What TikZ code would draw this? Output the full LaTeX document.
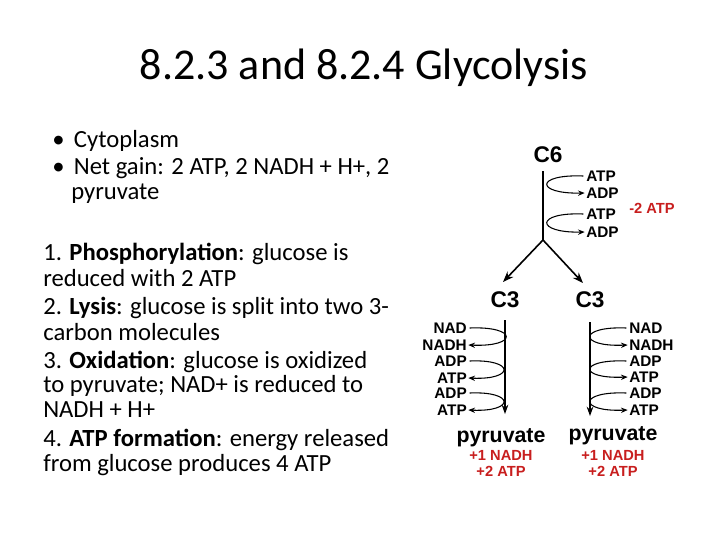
\documentclass[tikz,border=0pt]{standalone}
\usepackage{fontspec}
\setmainfont{Carlito}
\newfontfamily\hv{Liberation Sans}
\usetikzlibrary{arrows.meta}
\begin{document}
\begin{tikzpicture}[x=0.75pt,y=-0.75pt,
  txt/.style={font=\fontsize{18.5}{22}\selectfont,anchor=west,inner sep=0},
  big/.style={font=\hv\bfseries\fontsize{16}{19}\selectfont,inner sep=0},
  lab/.style={font=\hv\bfseries\fontsize{11.5}{13}\selectfont,inner sep=0},
  red/.style={font=\hv\bfseries\fontsize{11}{13}\selectfont,inner sep=0,text={rgb,255:red,200;green,30;blue,30}},
  ln/.style={line width=0.9pt},
  loop/.style={line width=0.8pt,-{Stealth[length=5pt,width=4pt]}},
  arr/.style={line width=1.2pt,-{Stealth[length=8pt,width=6pt]}}]
\useasboundingbox (0,0) rectangle (720,540);
\fill[white] (0,0) rectangle (720,540);
\node[font=\fontsize{33}{38}\selectfont] (title) at (364,68) {8.2.3 and 8.2.4 Glycolysis};
\node[txt] (b1) at (52,141) {•\hspace{7pt}Cytoplasm};
\node[txt] (b2) at (52,168) {•\hspace{7pt}Net gain: 2 ATP, 2 NADH + H+, 2};
\node[txt] (b3) at (71,194) {pyruvate};
\node[txt] (l1) at (43,254) {1. \textbf{Phosphorylation}: glucose is};
\node[txt] (l2) at (43,278) {reduced with 2 ATP};
\node[txt] (l3) at (43,308) {2. \textbf{Lysis}: glucose is split into two 3-};
\node[txt] (l4) at (43,332) {carbon molecules};
\node[txt] (l5) at (43,362) {3. \textbf{Oxidation}: glucose is oxidized};
\node[txt] (l6) at (43,386) {to pyruvate; NAD+ is reduced to};
\node[txt] (l7) at (43,410) {NADH + H+};
\node[txt] (l8) at (43,440) {4. \textbf{ATP formation}: energy released};
\node[txt] (l9) at (43,465) {from glucose produces 4 ATP};
% diagram
\node[big,font=\hv\bfseries\fontsize{17}{19}\selectfont] (c6) at (548,155) {C6};
\coordinate (top) at (543,171);
\coordinate (br) at (543,240);
\draw[ln] (top) -- (br);
\node[big,font=\hv\bfseries\fontsize{17}{19}\selectfont] (c3l) at (505,300) {C3};
\node[big,font=\hv\bfseries\fontsize{17}{19}\selectfont] (c3r) at (590,300) {C3};
\draw[arr] (br) -- (503,282);
\draw[arr] (br) -- (583,283);
\node[lab,anchor=west] (a1) at (586,176) {ATP};
\node[lab,anchor=west] (a2) at (586,193) {ADP};
\node[lab,anchor=west] (a3) at (586,214) {ATP};
\node[lab,anchor=west] (a4) at (586,232) {ADP};
\draw[loop] ([xshift=-2pt]a1.west) .. controls (535,174) and (535,194) .. ([xshift=-1pt]a2.west);
\draw[loop] ([xshift=-2pt]a3.west) .. controls (535,212) and (535,233) .. ([xshift=-1pt]a4.west);
\node[red] (m2) at (652,208) {-2 ATP};
% left column
\coordinate (lt) at (505,320);
\node[big] (pl) at (501,438) {pyruvate};
\draw[line width=0.8pt,-{Stealth[length=7pt,width=5pt]}] (lt) -- (505,414);
\node[lab,anchor=east] (n1) at (467,328) {NAD};
\node[lab,anchor=east] (n2) at (467,345) {NADH};
\node[lab,anchor=east] (n3) at (467,361) {ADP};
\node[lab,anchor=east] (n4) at (467,378) {ATP};
\node[lab,anchor=east] (n5) at (467,393) {ADP};
\node[lab,anchor=east] (n6) at (467,410) {ATP};
\draw[loop] ([xshift=2pt]n1.east) .. controls (518,326) and (518,347) .. ([xshift=1pt]n2.east);
\draw[loop] ([xshift=2pt]n3.east) .. controls (515,359) and (515,380) .. ([xshift=1pt]n4.east);
\draw[loop] ([xshift=2pt]n5.east) .. controls (515,391) and (515,412) .. ([xshift=1pt]n6.east);
\node[red] (pl1) at (501,455) {+1 NADH};
\node[red] (pl2) at (501,471) {+2 ATP};
% right column
\coordinate (rt) at (590,322);
\node[big] (pr) at (613,436) {pyruvate};
\draw[line width=0.8pt,-{Stealth[length=7pt,width=5pt]}] (rt) -- (590,416);
\node[lab,anchor=west] (r1) at (629,328) {NAD};
\node[lab,anchor=west] (r2) at (629,345) {NADH};
\node[lab,anchor=west] (r3) at (629,361) {ADP};
\node[lab,anchor=west] (r4) at (629,377) {ATP};
\node[lab,anchor=west] (r5) at (629,393) {ADP};
\node[lab,anchor=west] (r6) at (629,410) {ATP};
\draw[loop] ([xshift=-2pt]r1.west) .. controls (578,326) and (578,347) .. ([xshift=-1pt]r2.west);
\draw[loop] ([xshift=-2pt]r3.west) .. controls (578,359) and (578,379) .. ([xshift=-1pt]r4.west);
\draw[loop] ([xshift=-2pt]r5.west) .. controls (578,391) and (578,412) .. ([xshift=-1pt]r6.west);
\node[red] (pr1) at (613,455) {+1 NADH};
\node[red] (pr2) at (613,471) {+2 ATP};
\end{tikzpicture}
\end{document}
